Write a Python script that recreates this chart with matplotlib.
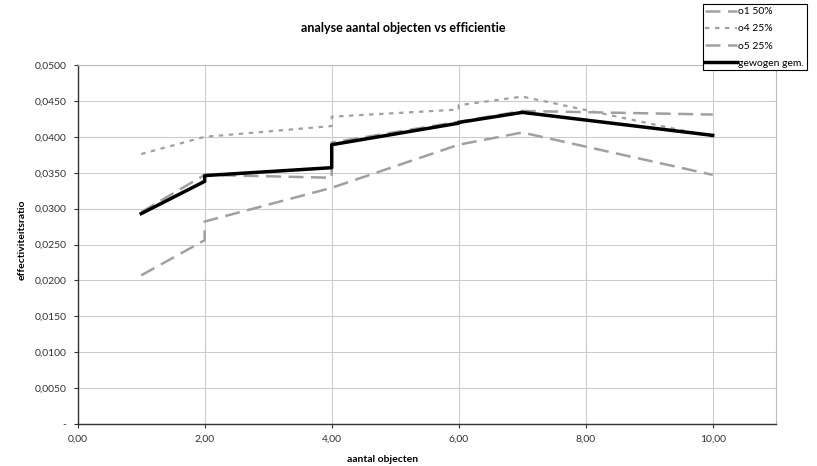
import matplotlib.pyplot as plt
from matplotlib.ticker import FuncFormatter, MultipleLocator

plt.rcParams['font.family'] = ['Lato', 'DejaVu Sans']

# aantal objecten (dubbele waarden geven de sprongen in de lijnen)
aantal = [1, 2, 2, 4, 4, 6, 6, 7, 10]
o1 = [0.0295, 0.0347, 0.0347, 0.0343, 0.0392, 0.0421, 0.0421, 0.0436, 0.0431]
o4 = [0.0376, 0.0400, 0.0400, 0.0415, 0.0428, 0.0438, 0.0444, 0.0456, 0.0400]
o5 = [0.0207, 0.0256, 0.0282, 0.0329, 0.0329, 0.0389, 0.0389, 0.0406, 0.0347]
gem = [0.0293, 0.0338, 0.0346, 0.0357, 0.0389, 0.0419, 0.0420, 0.0434, 0.0402]

fig = plt.figure(figsize=(8.17, 4.66), dpi=100)
ax = fig.add_axes([0.0951, 0.0901, 0.855, 0.7704])

grijs = '#a0a0a0'
ax.plot(aantal, o1, color=grijs, lw=1.8, dashes=(6, 3), label='o1 50%')
ax.plot(aantal, o4, color=grijs, lw=1.6, dashes=(2, 2.5), label='o4 25%')
ax.plot(aantal, o5, color=grijs, lw=1.8, dashes=(6, 3), label='o5 25%')
ax.plot(aantal, gem, color='black', lw=2.5, label='gewogen gem.')

ax.set_xlim(0, 11)
ax.set_ylim(0, 0.05)
ax.xaxis.set_major_locator(MultipleLocator(2))
ax.yaxis.set_major_locator(MultipleLocator(0.005))
ax.xaxis.set_major_formatter(FuncFormatter(lambda v, p: f'{v:.2f}'.replace('.', ',')))
ax.yaxis.set_major_formatter(FuncFormatter(
    lambda v, p: '-' if abs(v) < 1e-9 else f'{v:.4f}'.replace('.', ',')))

ax.grid(True, color='#cccccc', lw=0.8)
ax.set_axisbelow(True)
for s in ['top', 'right']:
    ax.spines[s].set_color('#bbbbbb')
    ax.spines[s].set_linewidth(0.8)
for s in ['left', 'bottom']:
    ax.spines[s].set_color('#333333')
    ax.spines[s].set_linewidth(1.0)
ax.tick_params(labelsize=7.5, colors='#333333', length=3, width=0.8, pad=5)

fig.text(0.493, 0.94, 'analyse aantal objecten vs efficientie',
         ha='center', va='center', fontsize=9, fontweight='bold')
fig.text(0.468, 0.015, 'aantal objecten', ha='center', va='center',
         fontsize=7.5, fontweight='bold')
fig.text(0.027, 0.485, 'effectiviteitsratio', ha='center', va='center',
         rotation=90, fontsize=7.5, fontweight='bold')

leg = fig.legend(loc='upper right', bbox_to_anchor=(0.99, 0.995), fontsize=7.5,
                 frameon=True, fancybox=False, edgecolor='black', framealpha=1,
                 handlelength=3.0, handletextpad=0.15, borderpad=0.25, labelspacing=0.75,
                 borderaxespad=0.2)
leg.get_frame().set_linewidth(0.8)

fig.savefig('out.png', dpi=100)
